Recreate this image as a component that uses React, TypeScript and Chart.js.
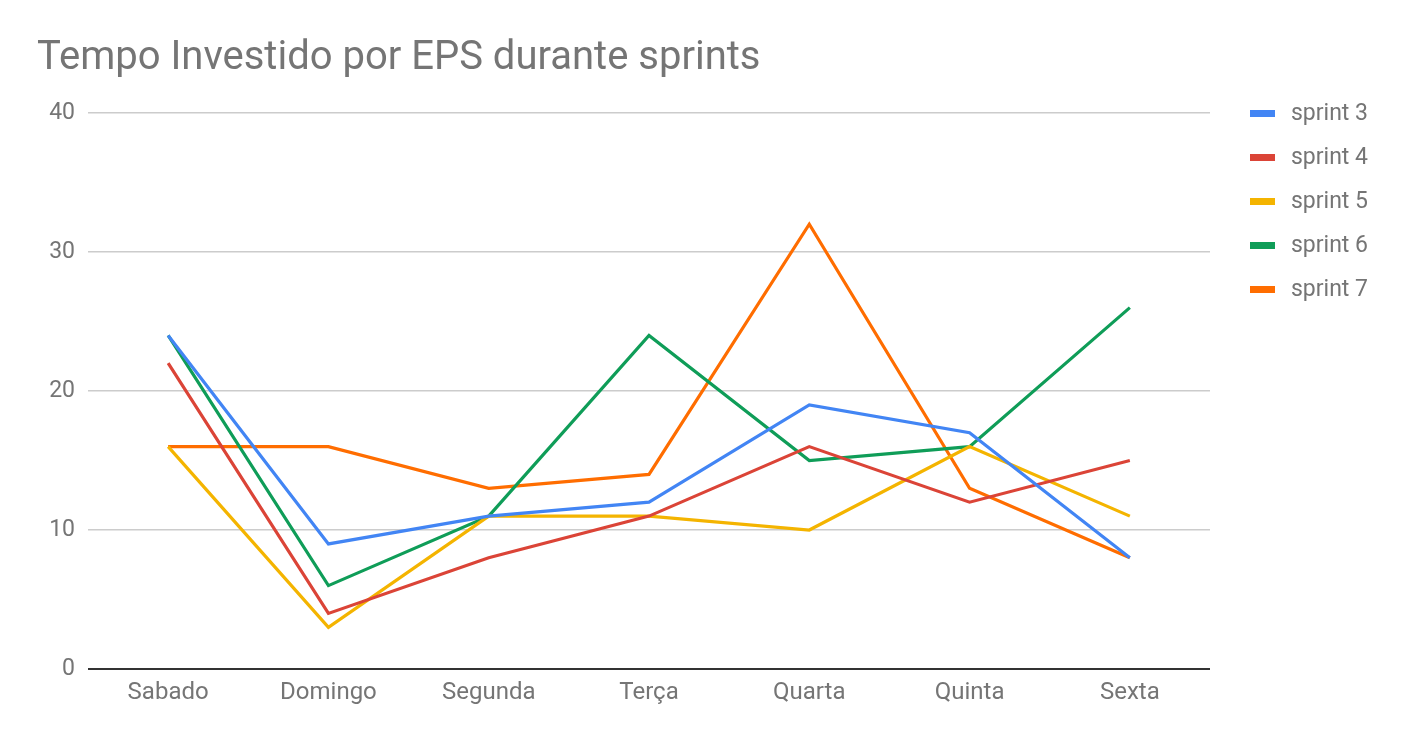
import React, { useEffect, useRef } from "react";
import { Chart, registerables } from "chart.js";

Chart.register(...registerables);

const TITLE = "Tempo Investido por EPS durante sprints";
const CATEGORIES = ["Sabado", "Domingo", "Segunda", "Terça", "Quarta", "Quinta", "Sexta"];
const SERIES_NAMES = ["sprint 3", "sprint 4", "sprint 5", "sprint 6", "sprint 7"];
const SPRINT_3 = [24, 9, 11, 12, 19, 17, 8];
const SPRINT_4 = [22, 4, 8, 11, 16, 12, 15];
const SPRINT_5 = [16, 3, 11, 11, 10, 16, 11];
const SPRINT_6 = [24, 6, 11, 24, 15, 16, 26];
const SPRINT_7 = [16, 16, 13, 14, 32, 13, 8];
const SERIES_VALUES = [SPRINT_3, SPRINT_4, SPRINT_5, SPRINT_6, SPRINT_7];
const COLORS = ["#4285F4", "#DB4437", "#F4B400", "#0F9D58", "#FF6D00"];
const Y_MIN = 0;
const Y_MAX = 40;
const Y_STEP = 10;

const FONT = "Roboto, 'Noto Sans', sans-serif";
const TEXT_COLOR = "#757575";

const legendPlugin = {
  id: "sideLegend",
  afterDraw(chart: any) {
    const { ctx, chartArea } = chart;
    const x0 = chartArea.right + 40;
    const y0 = chartArea.top;
    ctx.save();
    ctx.font = `23px ${FONT}`;
    ctx.textBaseline = "middle";
    ctx.textAlign = "left";
    chart.data.datasets.forEach((ds: any, i: number) => {
      const y = y0 + i * 44;
      ctx.fillStyle = ds.borderColor;
      ctx.fillRect(x0, y - 3, 25, 7);
      ctx.fillStyle = TEXT_COLOR;
      ctx.fillText(ds.label, x0 + 41, y + 1);
    });
    ctx.restore();
  },
};

export default function App() {
  const canvasRef = useRef<HTMLCanvasElement | null>(null);

  useEffect(() => {
    const canvas = canvasRef.current;
    if (!canvas) return;
    const chart = new Chart(canvas, {
      type: "line",
      data: {
        labels: CATEGORIES,
        datasets: SERIES_NAMES.map((name, i) => ({
          label: name,
          data: SERIES_VALUES[i],
          borderColor: COLORS[i],
          backgroundColor: COLORS[i],
          borderWidth: 3.2,
          pointRadius: 0,
          pointHoverRadius: 0,
          tension: 0,
          fill: false,
        })),
      },
      options: {
        animation: false,
        responsive: true,
        maintainAspectRatio: false,
        layout: { padding: { left: 37, right: 198, top: 0, bottom: 0 } },
        plugins: {
          legend: { display: false },
          tooltip: { enabled: false },
          title: {
            display: true,
            text: TITLE,
            align: "start",
            color: TEXT_COLOR,
            font: { family: FONT, size: 40, weight: "normal" },
            padding: { top: 35, bottom: 30 },
          },
        },
        scales: {
          x: {
            offset: true,
            grid: { display: false, drawTicks: false },
            border: { display: false },
            ticks: {
              color: TEXT_COLOR,
              font: { family: FONT, size: 24 },
              padding: 10,
              maxRotation: 0,
            },
            afterFit: (scale: any) => {
              scale.height = 69;
            },
          },
          y: {
            min: Y_MIN,
            max: Y_MAX,
            grid: {
              drawTicks: false,
              color: (ctx: any) => (ctx.tick && ctx.tick.value === 0 ? "#333333" : "#cccccc"),
              lineWidth: (ctx: any) => (ctx.tick && ctx.tick.value === 0 ? 2 : 1.5),
            },
            border: { display: false },
            ticks: {
              stepSize: Y_STEP,
              color: TEXT_COLOR,
              font: { family: FONT, size: 23 },
              padding: 13,
            },
            afterFit: (scale: any) => {
              scale.width = 51;
            },
          },
        },
      },
      plugins: [legendPlugin],
    });
    return () => chart.destroy();
  }, []);

  return (
    <div style={{ position: "absolute", left: 0, top: 0, width: 1408, height: 738, background: "#fff" }}>
      <canvas ref={canvasRef} />
    </div>
  );
}
